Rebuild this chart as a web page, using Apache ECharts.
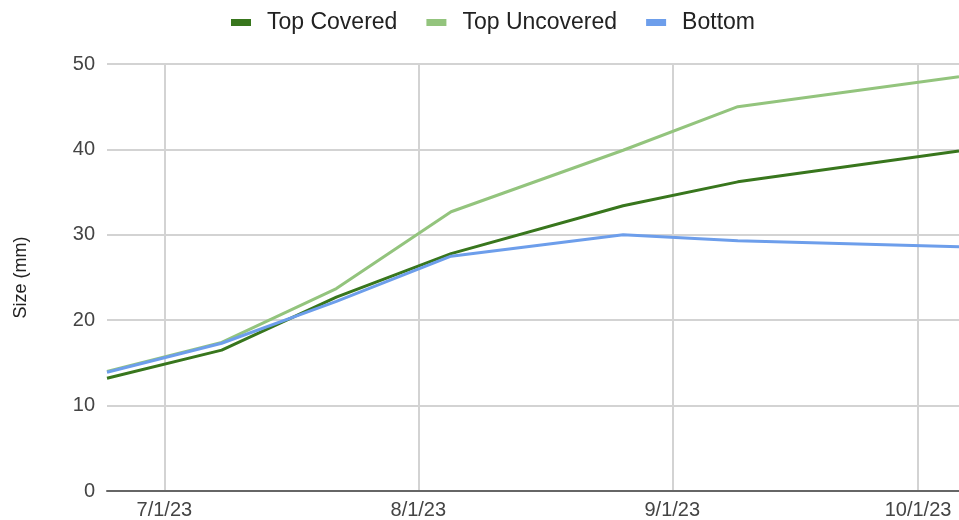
<!DOCTYPE html>
<html>
<head>
<meta charset="utf-8">
<script src="https://cdn.jsdelivr.net/npm/echarts@6/dist/echarts.min.js"></script>
<style>
  html, body { margin: 0; padding: 0; background: #fff; }
  #chart { width: 959px; height: 520px; }
</style>
</head>
<body>
<div id="chart"></div>
<script>
var dates = ['2023-06-24', '2023-07-08', '2023-07-22', '2023-08-05', '2023-08-26', '2023-09-09', '2023-10-06'];
var topCovered = [13.2, 16.5, 22.7, 27.8, 33.4, 36.2, 39.8];
var topUncovered = [14.0, 17.4, 23.7, 32.7, 39.9, 45.0, 48.5];
var bottom = [13.9, 17.3, 22.2, 27.5, 30.0, 29.3, 28.6];
var tickDates = ['2023-07-01', '2023-08-01', '2023-09-01', '2023-10-01'];

function toTime(s) {
  var p = s.split('-');
  return new Date(+p[0], +p[1] - 1, +p[2]).getTime();
}
function pairs(values) {
  return dates.map(function (d, i) { return [toTime(d), values[i]]; });
}
var tickTimes = tickDates.map(toTime);

var chart = echarts.init(document.getElementById('chart'));
var font = 'Arial, "Liberation Sans", sans-serif';

var option = {
  animation: false,
  color: ['#38761d', '#93c47d', '#6d9eeb'],
  legend: {
    top: 6,
    left: 226,
    itemWidth: 20,
    itemHeight: 7,
    itemGap: 29,
    icon: 'rect',
    textStyle: { fontFamily: font, fontSize: 23, color: '#222', padding: [0, 0, 0, 11] },
    data: ['Top Covered', 'Top Uncovered', 'Bottom']
  },
  grid: { left: 107, right: 0, top: 64, bottom: 29, containLabel: false },
  xAxis: {
    type: 'value',
    min: toTime(dates[0]),
    max: toTime(dates[dates.length - 1]),
    axisLine: { show: true, onZero: false, lineStyle: { color: '#666', width: 2 } },
    axisTick: { show: false, customValues: tickTimes },
    axisLabel: {
      customValues: tickTimes,
      fontFamily: font, fontSize: 20, color: '#444', margin: 9,
      formatter: function (v) {
        var d = new Date(v);
        return (d.getMonth() + 1) + '/' + d.getDate() + '/' + String(d.getFullYear()).slice(2);
      }
    },
    splitLine: { show: true, lineStyle: { color: '#d3d3d3', width: 2 } }
  },
  yAxis: {
    type: 'value',
    min: 0,
    max: 50,
    interval: 10,
    name: 'Size (mm)',
    nameLocation: 'middle',
    nameGap: 77,
    nameTextStyle: { fontFamily: font, fontSize: 18, color: '#222' },
    axisLine: { show: false },
    axisTick: { show: false },
    axisLabel: { fontFamily: font, fontSize: 20, color: '#444', margin: 12 },
    splitLine: { lineStyle: { color: '#d3d3d3', width: 2 } }
  },
  series: [
    { name: 'Top Covered', type: 'line', data: pairs(topCovered), showSymbol: false, lineStyle: { width: 3 } },
    { name: 'Top Uncovered', type: 'line', data: pairs(topUncovered), showSymbol: false, lineStyle: { width: 3 } },
    { name: 'Bottom', type: 'line', data: pairs(bottom), showSymbol: false, lineStyle: { width: 3 } }
  ]
};

chart.setOption(option);
</script>
</body>
</html>
